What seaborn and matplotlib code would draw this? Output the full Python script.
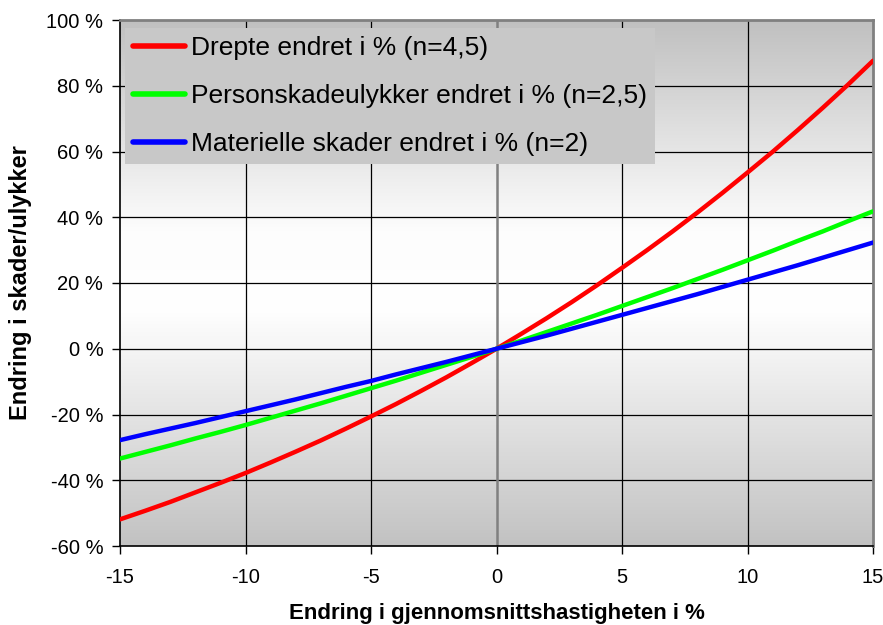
import numpy as np
import pandas as pd
import matplotlib
matplotlib.use("Agg")
import matplotlib.pyplot as plt
from matplotlib.colors import LinearSegmentedColormap
import seaborn as sns

# Speed change (%) and estimated change in accidents/injuries (%)
speed_change = list(range(-15, 16))
drepte = [-51.9, -49.3, -46.6, -43.7, -40.8, -37.8, -34.6, -31.3, -27.9, -24.3,
          -20.6, -16.8, -12.8, -8.7, -4.4, 0, 4.6, 9.3, 14.2, 19.3,
          24.6, 30.0, 35.6, 41.4, 47.4, 53.6, 59.9, 66.5, 73.3, 80.3, 87.6]
personskade = [-33.4, -31.4, -29.4, -27.3, -25.3, -23.2, -21.0, -18.8, -16.6, -14.3,
               -12.0, -9.7, -7.3, -4.9, -2.5, 0, 2.5, 5.1, 7.7, 10.3,
               13.0, 15.7, 18.4, 21.2, 24.0, 26.9, 29.8, 32.8, 35.7, 38.8, 41.8]
materielle = [-27.8, -26.0, -24.3, -22.6, -20.8, -19.0, -17.2, -15.4, -13.5, -11.6,
              -9.8, -7.8, -5.9, -4.0, -2.0, 0, 2.0, 4.0, 6.1, 8.2,
              10.3, 12.4, 14.5, 16.6, 18.8, 21.0, 23.2, 25.4, 27.7, 30.0, 32.3]

series_names = ["Drepte endret i % (n=4,5)",
                "Personskadeulykker endret i % (n=2,5)",
                "Materielle skader endret i % (n=2)"]
series_colors = ["#ff0000", "#00ff00", "#0000ff"]

y_ticks = [-60, -40, -20, 0, 20, 40, 60, 80, 100]
x_ticks = [-15, -10, -5, 0, 5, 10, 15]

df = pd.DataFrame({
    "x": speed_change * 3,
    "y": drepte + personskade + materielle,
    "serie": [series_names[0]] * len(speed_change)
             + [series_names[1]] * len(speed_change)
             + [series_names[2]] * len(speed_change),
})

sns.set_style("white")
plt.rcParams["font.family"] = ["Liberation Sans", "DejaVu Sans"]
plt.rcParams["text.color"] = "black"
plt.rcParams["axes.labelcolor"] = "black"
plt.rcParams["xtick.color"] = "black"
plt.rcParams["ytick.color"] = "black"

fig = plt.figure(figsize=(8.83, 6.25), dpi=100)
ax = fig.add_axes([120 / 883, 79 / 625, 753 / 883, 526 / 625])

# grey-white-grey gradient background
grad = LinearSegmentedColormap.from_list(
    "bg", [(0, "#c2c2c2"), (0.45, "#ffffff"), (0.6, "#fdfdfd"), (1, "#c0c0c0")])
ax.imshow(np.linspace(0, 1, 256).reshape(-1, 1), cmap=grad, aspect="auto",
          extent=[-15, 15, -60, 100], origin="lower", zorder=0)

for yv in y_ticks[1:-1]:
    ax.axhline(yv, color="#000000", lw=0.9, zorder=1)
for xv in x_ticks[1:-1]:
    if xv == 0:
        ax.axvline(xv, color="#808080", lw=1.8, zorder=1)
    else:
        ax.axvline(xv, color="#000000", lw=0.9, zorder=1)

sns.lineplot(data=df, x="x", y="y", hue="serie", palette=series_colors,
             linewidth=3.2, ax=ax, zorder=3)

ax.set_xlim(-15, 15)
ax.set_ylim(-60, 100)
ax.set_xticks(x_ticks)
ax.set_xticklabels([str(v) for v in x_ticks])
ax.set_yticks(y_ticks)
ax.set_yticklabels([f"{v} %" for v in y_ticks])
ax.tick_params(axis="both", direction="out", length=6, width=1, color="black",
               labelcolor="black", labelsize=14.5, bottom=True, left=True)
ax.tick_params(axis="y", pad=6)
ax.tick_params(axis="x", pad=10)

for side in ["left", "bottom"]:
    ax.spines[side].set_color("black")
    ax.spines[side].set_linewidth(1.2)
for side in ["top", "right"]:
    ax.spines[side].set_color("#808080")
    ax.spines[side].set_linewidth(2)

ax.set_xlabel("Endring i gjennomsnittshastigheten i %", fontsize=16,
              fontweight="bold", labelpad=11)
ax.set_ylabel("Endring i skader/ulykker", fontsize=17, fontweight="bold",
              labelpad=10)

leg = ax.legend(loc="upper left", bbox_to_anchor=(0.0, 0.995), fontsize=19,
                frameon=True, fancybox=False, handlelength=1.95,
                handletextpad=0.25, borderpad=0.3, labelspacing=0.92,
                borderaxespad=0.2)
leg.get_frame().set_facecolor("#c8c8c8")
leg.get_frame().set_edgecolor("none")
leg.get_frame().set_alpha(1)
for line in leg.get_lines():
    line.set_linewidth(4)
leg.set_zorder(5)

fig.savefig("out.png", dpi=100)
